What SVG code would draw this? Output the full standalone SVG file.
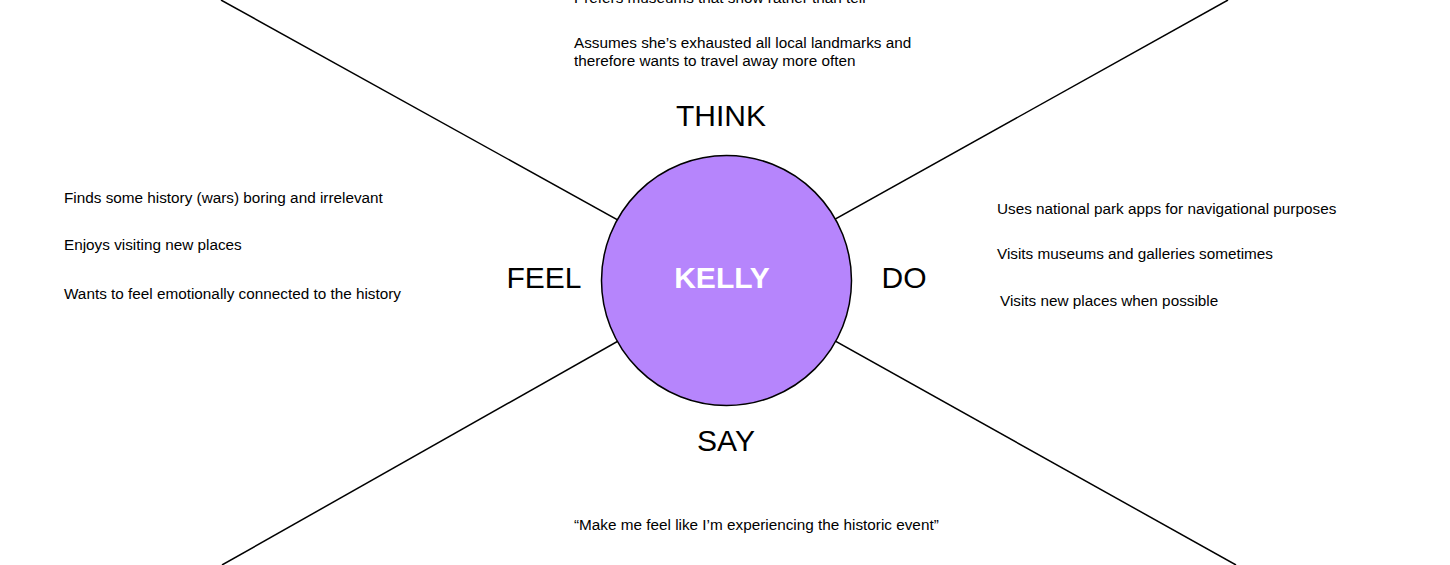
<svg xmlns="http://www.w3.org/2000/svg" width="1450" height="565" viewBox="0 0 1450 565">
<style>
.t{font-family:"Liberation Sans",Arial,sans-serif;font-size:15.3px;fill:#000}
.h{font-family:"Liberation Sans",Arial,sans-serif;font-size:30px;fill:#000}
.ln{stroke:#000;stroke-width:1.5;fill:none}
</style>
<rect width="1450" height="565" fill="#fff"/>
<g id="connectors">
<line class="ln" x1="221" y1="0" x2="726" y2="280"/>
<line class="ln" x1="1228" y1="0" x2="726" y2="280"/>
<line class="ln" x1="222" y1="565" x2="726" y2="280"/>
<line class="ln" x1="1236" y1="565" x2="726" y2="280"/>
</g>
<g id="kelly">
<circle cx="726.5" cy="280.5" r="125" fill="#B685FC" stroke="#000" stroke-width="1.5"/>
<text x="722" y="288" text-anchor="middle" font-family="'Liberation Sans',Arial,sans-serif" font-weight="bold" font-size="30" fill="#fff">KELLY</text>
</g>
<g id="think">
<text class="h" x="721" y="126" text-anchor="middle">THINK</text>
<text class="t" x="574" y="3">Prefers museums that show rather than tell</text>
<text class="t" x="574" y="48">Assumes she’s exhausted all local landmarks and</text>
<text class="t" x="574" y="66">therefore wants to travel away more often</text>
</g>
<g id="feel">
<text class="h" x="544" y="288" text-anchor="middle">FEEL</text>
<text class="t" x="64" y="203">Finds some history (wars) boring and irrelevant</text>
<text class="t" x="64" y="250">Enjoys visiting new places</text>
<text class="t" x="64" y="299">Wants to feel emotionally connected to the history</text>
</g>
<g id="do">
<text class="h" x="904" y="288" text-anchor="middle">DO</text>
<text class="t" x="997" y="214">Uses national park apps for navigational purposes</text>
<text class="t" x="997" y="259">Visits museums and galleries sometimes</text>
<text class="t" x="1000" y="306">Visits new places when possible</text>
</g>
<g id="say">
<text class="h" x="726" y="451" text-anchor="middle">SAY</text>
<text class="t" x="574" y="530">“Make me feel like I’m experiencing the historic event”</text>
</g>
</svg>
